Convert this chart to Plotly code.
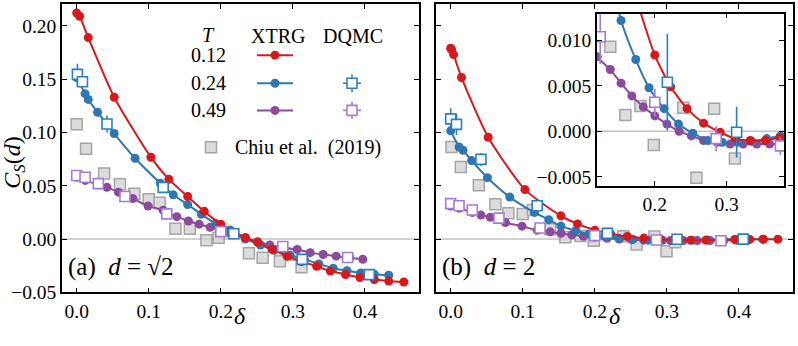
import plotly.graph_objects as go

# ---- panel (a): d = sqrt(2) ----
a_red_x = [0.0, 0.004, 0.016, 0.052, 0.103, 0.128, 0.154, 0.177, 0.2, 0.234, 0.251, 0.271, 0.292,
           0.312, 0.333, 0.352, 0.373, 0.393, 0.413, 0.433, 0.454]
a_red_y = [0.212, 0.209, 0.189, 0.133, 0.0767, 0.056, 0.040, 0.026, 0.014, 0.0015, -0.003, -0.0097,
           -0.016, -0.021, -0.0255, -0.030, -0.0333, -0.036, -0.038, -0.0394, -0.0403]
a_blue_x = [0.0, 0.0116, 0.016, 0.029, 0.052, 0.081, 0.116, 0.134, 0.154, 0.173, 0.193, 0.213, 0.234,
            0.255, 0.274, 0.296, 0.316, 0.336, 0.356, 0.375, 0.394, 0.413, 0.433]
a_blue_y = [0.1515, 0.1364, 0.131, 0.119, 0.099, 0.0758, 0.0524, 0.0415, 0.0324, 0.0233, 0.0145, 0.0085,
            0.0, -0.0055, -0.0106, -0.0151, -0.019, -0.0233, -0.0273, -0.0297, -0.0318, -0.033, -0.0339]
a_purple_x = [0.0, 0.012, 0.030, 0.042, 0.058, 0.078, 0.099, 0.12, 0.139, 0.155, 0.17, 0.185, 0.2,
              0.213, 0.234, 0.251, 0.268, 0.287, 0.306, 0.324, 0.342, 0.360, 0.379, 0.397]
a_purple_y = [0.058, 0.055, 0.051, 0.0485, 0.044, 0.038, 0.031, 0.027, 0.021, 0.017, 0.014, 0.011, 0.008,
              0.0055, 0.0006, -0.0024, -0.0055, -0.0078, -0.0097, -0.0127, -0.0145, -0.016, -0.0175, -0.019]
a_dqmc_blue_x = [0.001, 0.008, 0.042, 0.12, 0.218, 0.313, 0.406]
a_dqmc_blue_y = [0.1545, 0.1476, 0.108, 0.0485, 0.005, -0.019, -0.0333]
a_dqmc_blue_err = [0.010, 0.005, 0.008, 0.005, 0.002, 0.002, 0.002]
a_dqmc_purple_x = [0.0, 0.0116, 0.030, 0.067, 0.125, 0.2, 0.286, 0.376]
a_dqmc_purple_y = [0.0597, 0.058, 0.052, 0.040, 0.0236, 0.007, -0.007, -0.0173]
a_dqmc_purple_err = [0.005, 0.003, 0.002, 0.002, 0.002, 0.002, 0.002, 0.002]
a_chiu_x = [0.0, 0.013, 0.038, 0.060, 0.080, 0.100, 0.115, 0.137, 0.157, 0.180, 0.197, 0.239, 0.258,
            0.282, 0.2986, 0.312]
a_chiu_y = [0.1076, 0.0848, 0.0615, 0.0515, 0.0424, 0.0373, 0.034, 0.0097, 0.0097, -0.0012, 0.0012,
            -0.0133, -0.0174, -0.0209, -0.0148, -0.0265]

# ---- panel (b): d = 2 ----
b_red_x = [0.0, 0.001, 0.004, 0.015, 0.052, 0.103, 0.153, 0.176, 0.2, 0.222, 0.245, 0.268, 0.291,
           0.312, 0.333, 0.354, 0.374, 0.395, 0.415, 0.434, 0.454]
b_red_y = [0.179, 0.178, 0.173, 0.1515, 0.0955, 0.0464, 0.0218, 0.0142, 0.0084, 0.0049, 0.0025, 0.0009,
           -0.0001, -0.0008, -0.001, -0.001, -0.0007, -0.0005, -0.0003, -0.0002, -0.0001]
b_blue_x = [0.0, 0.0116, 0.017, 0.029, 0.051, 0.082, 0.116, 0.136, 0.153, 0.1735, 0.192, 0.213, 0.233,
            0.253, 0.274, 0.294, 0.315, 0.335, 0.356, 0.375, 0.394, 0.413, 0.433]
b_blue_y = [0.1015, 0.0864, 0.0833, 0.0736, 0.0576, 0.0394, 0.025, 0.0182, 0.0122, 0.0079, 0.0048, 0.0025,
            0.0008, -0.0002, -0.001, -0.0012, -0.0012, -0.0011, -0.0008, -0.0005, -0.0003, -0.0002, -0.0001]
b_purple_x = [0.0, 0.012, 0.030, 0.042, 0.055, 0.076, 0.099, 0.12, 0.138, 0.153, 0.168, 0.184, 0.2,
              0.217, 0.234, 0.251, 0.268, 0.287, 0.305, 0.323, 0.342, 0.36, 0.379, 0.397]
b_purple_y = [0.031, 0.029, 0.025, 0.0225, 0.0205, 0.0155, 0.0121, 0.0082, 0.0068, 0.0053, 0.0039, 0.0027,
              0.0017, 0.0008, 0.0, -0.0005, -0.001, -0.0012, -0.0014, -0.0014, -0.0014, -0.0014, -0.0013, -0.0012]
b_dqmc_blue_x = [0.0, 0.008, 0.042, 0.12, 0.2175, 0.314, 0.406]
b_dqmc_blue_y = [0.1127, 0.1076, 0.0748, 0.0312, 0.0054, -0.0001, 0.0]
b_dqmc_blue_err = [0.010, 0.010, 0.006, 0.003, 0.0053, 0.0028, 0.001]
b_dqmc_purple_x = [0.0, 0.0116, 0.030, 0.067, 0.124, 0.2, 0.2855, 0.375]
b_dqmc_purple_y = [0.0333, 0.0312, 0.0273, 0.0197, 0.0104, 0.0032, -0.0008, -0.0016]
b_dqmc_purple_err = [0.004, 0.002, 0.002, 0.002, 0.003, 0.0015, 0.0014, 0.001]
b_chiu_x = [0.001, 0.014, 0.039, 0.062, 0.080, 0.1, 0.114, 0.138, 0.159, 0.180, 0.1986, 0.2396, 0.258,
            0.2827, 0.2995, 0.3116]
b_chiu_y = [0.0864, 0.0676, 0.0506, 0.0327, 0.0242, 0.0236, 0.0273, 0.0093, 0.0018, 0.0028, -0.0015,
            0.0026, -0.0051, 0.0025, -0.0115, -0.003]

temps = ["0.12", "0.24", "0.49"]

RED = "#d7191c"
BLUE = "#2f77b2"
PURPLE = "#8b4a9c"
DQ_BLUE = "#2a7fc0"
DQ_PURPLE = "#a37bd9"
FONT = "Liberation Serif"


def xtrg(x, y, color, xa, ya):
    return go.Scatter(x=x, y=y, xaxis=xa, yaxis=ya, mode="lines+markers",
                      line=dict(color=color, width=2, shape="spline", smoothing=0.6),
                      marker=dict(symbol="circle", size=9, color=color),
                      showlegend=False, hoverinfo="skip")


def dqmc(x, y, err, color, xa, ya):
    return go.Scatter(x=x, y=y, xaxis=xa, yaxis=ya, mode="markers",
                      marker=dict(symbol="square", size=10, color="white",
                                  line=dict(color=color, width=1.6)),
                      error_y=dict(type="data", array=err, color=color, thickness=1.6, width=0),
                      showlegend=False, hoverinfo="skip")


def chiu(x, y, xa, ya):
    return go.Scatter(x=x, y=y, xaxis=xa, yaxis=ya, mode="markers",
                      marker=dict(symbol="square", size=11, color="#d4d4d4",
                                  line=dict(color="#8f8f8f", width=1.5)),
                      opacity=0.8, showlegend=False, hoverinfo="skip")


fig = go.Figure()

panels = [
    ("x", "y", a_red_x, a_red_y, a_blue_x, a_blue_y, a_purple_x, a_purple_y,
     a_dqmc_blue_x, a_dqmc_blue_y, a_dqmc_blue_err, a_dqmc_purple_x, a_dqmc_purple_y, a_dqmc_purple_err,
     a_chiu_x, a_chiu_y),
    ("x2", "y2", b_red_x, b_red_y, b_blue_x, b_blue_y, b_purple_x, b_purple_y,
     b_dqmc_blue_x, b_dqmc_blue_y, b_dqmc_blue_err, b_dqmc_purple_x, b_dqmc_purple_y, b_dqmc_purple_err,
     b_chiu_x, b_chiu_y),
    ("x3", "y3", b_red_x, b_red_y, b_blue_x, b_blue_y, b_purple_x, b_purple_y,
     b_dqmc_blue_x, b_dqmc_blue_y, b_dqmc_blue_err, b_dqmc_purple_x, b_dqmc_purple_y, b_dqmc_purple_err,
     b_chiu_x, b_chiu_y),
]
for (xa, ya, rx, ry, bx, by, px, py, dbx, dby, dbe, dpx, dpy, dpe, cx, cy) in panels:
    fig.add_trace(chiu(cx, cy, xa, ya))
    fig.add_trace(xtrg(px, py, PURPLE, xa, ya))
    fig.add_trace(xtrg(bx, by, BLUE, xa, ya))
    fig.add_trace(xtrg(rx, ry, RED, xa, ya))
    fig.add_trace(dqmc(dpx, dpy, dpe, DQ_PURPLE, xa, ya))
    fig.add_trace(dqmc(dbx, dby, dbe, DQ_BLUE, xa, ya))

# ---- hand-made legend (pixel coordinates on an overlay axis) ----
row_y = [57, 86, 114]
for t, ry, c in zip(temps, row_y, [RED, BLUE, PURPLE]):
    fig.add_trace(go.Scatter(x=[257, 275, 293], y=[ry] * 3, xaxis="x4", yaxis="y4",
                             mode="lines", line=dict(color=c, width=2),
                             showlegend=False, hoverinfo="skip"))
    fig.add_trace(go.Scatter(x=[275], y=[ry], xaxis="x4", yaxis="y4", mode="markers",
                             marker=dict(size=9, color=c), showlegend=False, hoverinfo="skip"))
for ry, c in zip(row_y[1:], [DQ_BLUE, DQ_PURPLE]):
    fig.add_trace(go.Scatter(x=[352], y=[ry], xaxis="x4", yaxis="y4", mode="markers",
                             marker=dict(symbol="square", size=10, color="white", line=dict(color=c, width=1.6)),
                             error_x=dict(type="data", array=[9], color=c, thickness=1.6, width=0),
                             error_y=dict(type="data", array=[9], color=c, thickness=1.6, width=0),
                             showlegend=False, hoverinfo="skip"))
fig.add_trace(go.Scatter(x=[211], y=[152], xaxis="x4", yaxis="y4", mode="markers",
                         marker=dict(symbol="square", size=11, color="#d4d4d4", line=dict(color="#8f8f8f", width=1.5)),
                         opacity=0.8, showlegend=False, hoverinfo="skip"))

ann = [
    dict(x=208, y=36, text="<i>T</i>", xanchor="center"),
    dict(x=278, y=37, text="XTRG", xanchor="center"),
    dict(x=353, y=37, text="DQMC", xanchor="center"),
    dict(x=233, y=152, text="Chiu et al.  (2019)", xanchor="left"),
]
for t, ry in zip(temps, row_y):
    ann.append(dict(x=208, y=ry, text=t, xanchor="center"))
annotations = [dict(a, xref="x4", yref="y4", yanchor="middle", showarrow=False,
                    font=dict(family=FONT, size=20, color="black")) for a in ann]

W, H = 798, 346
annotations += [
    dict(x=66 / W, y=1 - 276 / H, text="(a)  <i>d</i> = √2", xanchor="left", size=25),
    dict(x=440 / W, y=1 - 276 / H, text="(b)  <i>d</i> = 2", xanchor="left", size=25),
    dict(x=240 / W, y=1 - 326 / H, text="<i>δ</i>", xanchor="center", size=24),
    dict(x=615 / W, y=1 - 326 / H, text="<i>δ</i>", xanchor="center", size=24),
    dict(x=14 / W, y=1 - 168 / H, text="<i>C<sub>S</sub></i>(<i>d</i>)", xanchor="center",
         textangle=-90, size=24),
]
for a in annotations[-5:]:
    s = a.pop("size")
    a.update(xref="paper", yref="paper", yanchor="middle", showarrow=False,
             font=dict(family=FONT, size=s, color="black"))

axis_style = dict(showline=True, linecolor="black", linewidth=1.5, mirror="ticks", ticks="inside",
                  ticklen=5, tickwidth=1.3, tickcolor="black", showgrid=False, zeroline=False,
                  tickfont=dict(family=FONT, size=19.5, color="black"))

xr = [-0.0204, 0.475]
yr = [-0.05, 0.2206]
ydom = [1 - 302 / H, 1 - 4 / H]

fig.update_layout(
    width=W, height=H,
    margin=dict(l=0, r=0, t=0, b=0),
    paper_bgcolor="white", plot_bgcolor="rgba(0,0,0,0)",
    font=dict(family=FONT, color="black"),
    xaxis=dict(axis_style, domain=[62 / W, 419 / W], range=xr, anchor="y", dtick=0.1, tickformat=".1f"),
    yaxis=dict(axis_style, domain=ydom, range=yr, anchor="x", dtick=0.05, tickformat=".2f"),
    xaxis2=dict(axis_style, domain=[436 / W, 793 / W], range=xr, anchor="y2", dtick=0.1, tickformat=".1f"),
    yaxis2=dict(axis_style, domain=ydom, range=yr, anchor="x2", dtick=0.05, showticklabels=False),
    xaxis3=dict(axis_style, domain=[597 / W, 784 / W], range=[0.1195, 0.38], anchor="y3",
                dtick=0.1, tickformat=".1f"),
    yaxis3=dict(axis_style, domain=[1 - 192 / H, 1 - 14 / H], range=[-0.006, 0.01296], anchor="x3",
                dtick=0.005, tickformat=".3f"),
    xaxis4=dict(domain=[0, 1], range=[0, W], visible=False, anchor="y4", fixedrange=True),
    yaxis4=dict(domain=[0, 1], range=[H, 0], visible=False, anchor="x4", fixedrange=True),
    annotations=annotations,
    shapes=[
        dict(type="line", xref=f"{x} domain", x0=0, x1=1, yref=y, y0=0, y1=0, layer="below",
             line=dict(color="#c2c2c2", width=1.5))
        for x, y in [("x", "y"), ("x2", "y2"), ("x3", "y3")]
    ],
)

# the page's default body margin would shift the figure by 8 px
fig.write_html("out.html", config={"displayModeBar": False},
               post_script="document.body.style.margin='0';")
